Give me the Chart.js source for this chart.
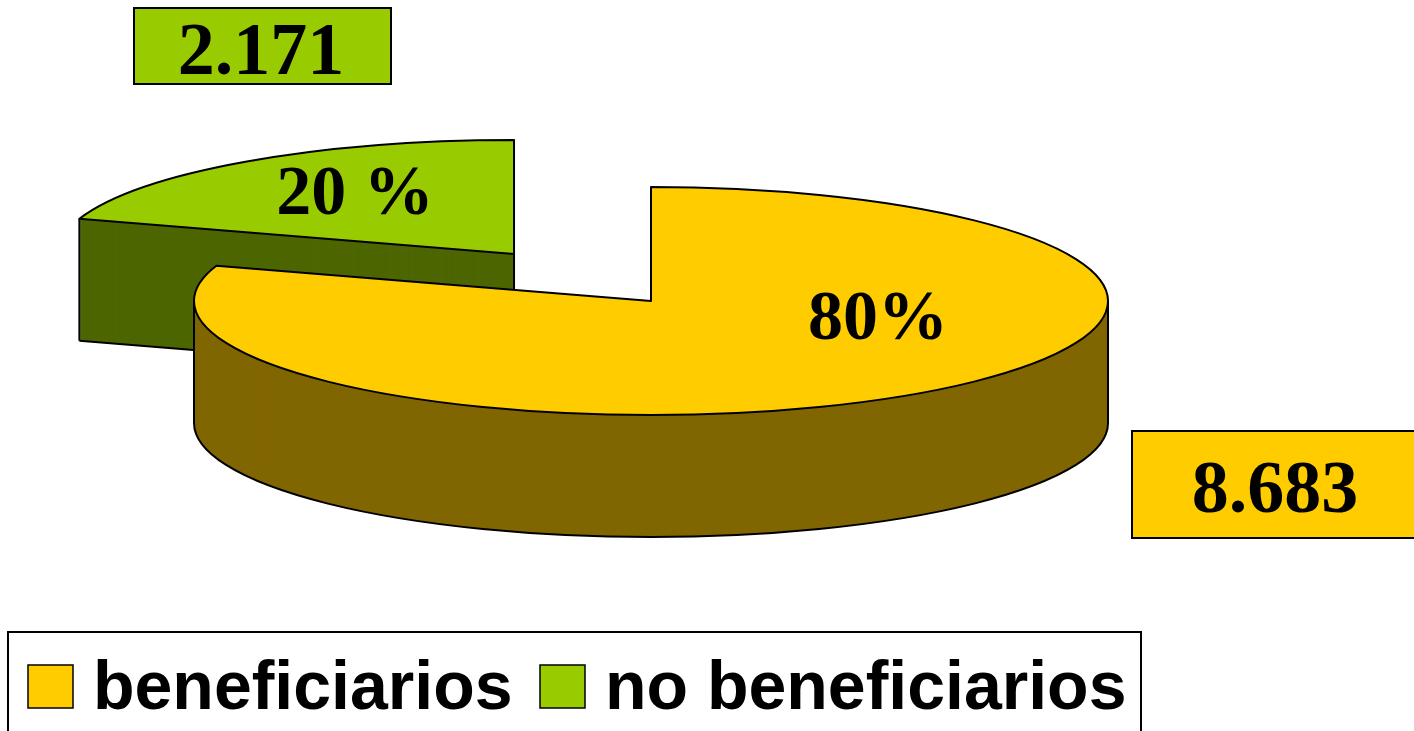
<!DOCTYPE html>
<html>
<head>
<meta charset="utf-8">
<title>beneficiarios</title>
<script src="https://cdn.jsdelivr.net/npm/chart.js@4/dist/chart.umd.js"></script>
<style>
  html, body { margin: 0; padding: 0; background: #fff; overflow: hidden; }
  canvas { display: block; }
</style>
</head>
<body>
<canvas id="pieChart" width="1414" height="731"></canvas>
<script>
// data
const categories = ['beneficiarios', 'no beneficiarios'];
const values = [8683, 2171];
const valueLabels = ['8.683', '2.171'];
const percentLabels = ['80%', '20 %'];
const topColors = ['#FFCC00', '#99CC00'];
const wallColors = ['#806600', '#4D6600'];

// look of the fake 3d pie
const SQUASH = 0.2495;
const DEPTH = 122;
const EXPLODE = 233;
const SERIF = '"Liberation Serif", "Times New Roman", serif';
const SANS = '"Liberation Sans", Arial, sans-serif';

function slicePath(ctx, arc, dy) {
    const r = arc.outerRadius;
    ctx.beginPath();
    ctx.moveTo(arc.x, arc.y + dy);
    ctx.ellipse(arc.x, arc.y + dy, r, r * SQUASH, 0, arc.startAngle, arc.endAngle);
    ctx.closePath();
}

function edge(ctx, x, y) {
    ctx.beginPath();
    ctx.moveTo(x, y);
    ctx.lineTo(x, y + DEPTH);
    ctx.stroke();
}

function drawSlice(ctx, arc, index) {
    const mid = (arc.startAngle + arc.endAngle) / 2;
    const r = arc.outerRadius;
    const shift = index === 1 ? EXPLODE : 0;
    const startX = arc.x + Math.cos(arc.startAngle) * r;
    const startY = arc.y + Math.sin(arc.startAngle) * r * SQUASH;

    ctx.save();
    ctx.translate(Math.cos(mid) * shift, Math.sin(mid) * shift * SQUASH);
    ctx.lineWidth = 2;
    ctx.strokeStyle = '#000';
    ctx.lineJoin = 'round';

    // wall: stacked copies going up from the bottom outline
    ctx.fillStyle = wallColors[index];
    for (let d = DEPTH; d > 0; d--) {
        slicePath(ctx, arc, d);
        ctx.fill();
    }

    // outline of the wall, only the part that can be seen
    ctx.beginPath();
    if (index === 0) {
        // front half of the rim
        ctx.ellipse(arc.x, arc.y + DEPTH, r, r * SQUASH, 0, 0, Math.PI);
        ctx.stroke();
        edge(ctx, arc.x - r, arc.y);
        edge(ctx, arc.x + r, arc.y);
    } else {
        ctx.moveTo(arc.x, arc.y + DEPTH);
        ctx.lineTo(startX, startY + DEPTH);
        ctx.stroke();
        edge(ctx, arc.x, arc.y);
        edge(ctx, startX, startY);
    }

    // top face is the library's own arc, flattened
    ctx.save();
    ctx.translate(0, arc.y);
    ctx.scale(1, SQUASH);
    ctx.translate(0, -arc.y);
    arc.draw(ctx);
    ctx.restore();

    slicePath(ctx, arc, 0);
    ctx.stroke();
    ctx.restore();
}

function labelBox(ctx, text, x, y, w, h, fill, textX, baseline) {
    ctx.fillStyle = fill;
    ctx.fillRect(x, y, w, h);
    ctx.lineWidth = 2;
    ctx.strokeStyle = '#000';
    ctx.strokeRect(x, y, w, h);
    ctx.fillStyle = '#000';
    ctx.font = 'bold 74px ' + SERIF;
    ctx.textAlign = 'center';
    ctx.textBaseline = 'alphabetic';
    ctx.fillText(text, textX, baseline);
}

const pie3d = {
    id: 'pie3d',
    beforeDatasetDraw(chart, args) {
        const ctx = chart.ctx;
        const arcs = chart.getDatasetMeta(args.index).data;
        // the small slice sits behind the big one
        drawSlice(ctx, arcs[1], 1);
        drawSlice(ctx, arcs[0], 0);
        return false;
    },
    afterDraw(chart) {
        const ctx = chart.ctx;
        ctx.save();

        // percent labels
        ctx.fillStyle = '#000';
        ctx.font = 'bold 70px ' + SERIF;
        ctx.textAlign = 'center';
        ctx.textBaseline = 'alphabetic';
        ctx.fillText(percentLabels[0], 878, 339);
        ctx.fillText(percentLabels[1], 355, 214);

        // value boxes
        labelBox(ctx, valueLabels[1], 134, 8, 257, 76, topColors[1], 261, 74);
        labelBox(ctx, valueLabels[0], 1132, 431, 290, 107, topColors[0], 1275, 512);

        // legend
        ctx.lineWidth = 2;
        ctx.strokeStyle = '#000';
        ctx.strokeRect(8, 632, 1133, 110);
        ctx.font = 'bold 68px ' + SANS;
        ctx.textAlign = 'left';
        const swatchX = [28, 540];
        categories.forEach(function(name, i) {
            ctx.fillStyle = topColors[i];
            ctx.fillRect(swatchX[i], 665, 45, 43);
            ctx.lineWidth = 1.5;
            ctx.strokeRect(swatchX[i], 665, 45, 43);
            ctx.fillStyle = '#000';
            ctx.fillText(name, swatchX[i] + 65, 709);
        });
        ctx.restore();
    }
};

new Chart(document.getElementById('pieChart'), {
    type: 'pie',
    data: {
        labels: categories,
        datasets: [{
            data: values,
            backgroundColor: topColors,
            borderWidth: 0,
            radius: 457
        }]
    },
    options: {
        responsive: false,
        animation: false,
        events: [],
        layout: { padding: { right: 112, bottom: 129 } },
        plugins: {
            legend: { display: false },
            tooltip: { enabled: false }
        }
    },
    plugins: [pie3d]
});
</script>
</body>
</html>
